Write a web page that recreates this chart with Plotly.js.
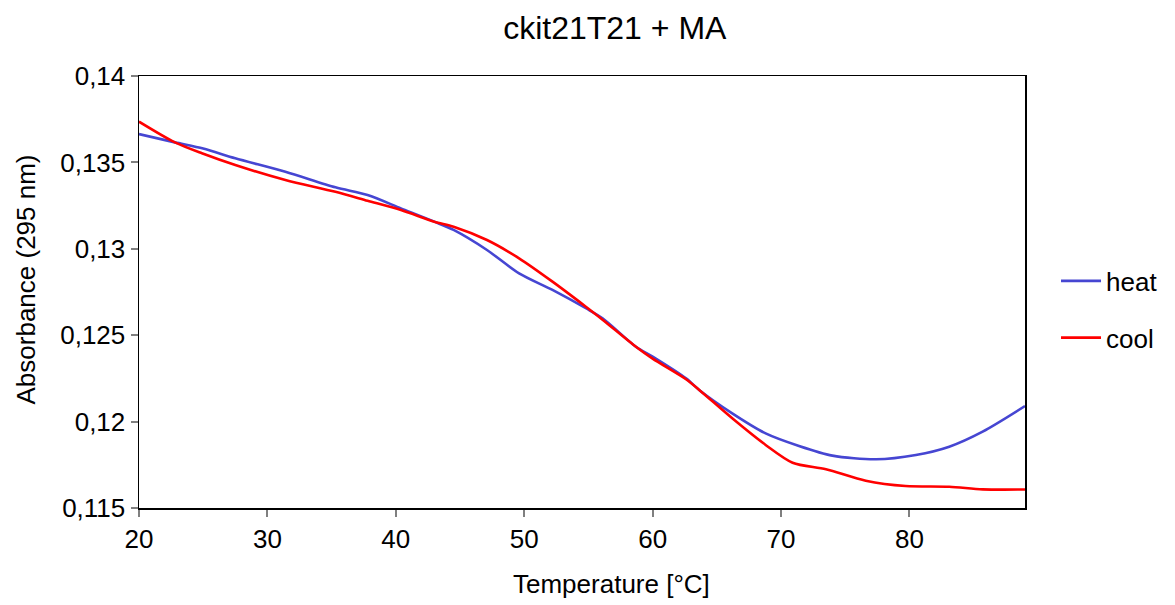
<!DOCTYPE html>
<html>
<head>
<meta charset="utf-8">
<script src="https://cdn.plot.ly/plotly-3.0.1.min.js"></script>
<style>html,body{margin:0;padding:0;background:#fff;}#chart{width:1175px;height:605px;}</style>
</head>
<body>
<div id="chart"></div>
<script>
const heatT = [20, 22.8, 25, 27.5, 31.4, 35.3, 37.8, 40.4, 43.0, 44.5, 47.1, 49.6, 52.2, 54.8, 56.1, 58.7, 60.0, 62.6, 63.7, 66.2, 68.8, 71.4, 74.0, 77.4, 80.5, 83.1, 85.7, 89];
const heatA = [0.13664, 0.13616, 0.1358, 0.13524, 0.13446, 0.13356, 0.13311, 0.13234, 0.13157, 0.13109, 0.12993, 0.12858, 0.12762, 0.12656, 0.12598, 0.12433, 0.12376, 0.1225, 0.12179, 0.12048, 0.11932, 0.11859, 0.11803, 0.11782, 0.11807, 0.11855, 0.11942, 0.1209];
const coolT = [20, 22.8, 24.9, 27.5, 31.4, 35.3, 37.8, 40.4, 43.0, 44.5, 47.1, 49.6, 52.2, 54.8, 56.1, 58.7, 60.0, 62.6, 63.7, 66.2, 68.8, 70.9, 73.5, 76.6, 79.7, 83.1, 85.7, 89];
const coolA = [0.13736, 0.13616, 0.13553, 0.13485, 0.13398, 0.1333, 0.13278, 0.13224, 0.13157, 0.13128, 0.13051, 0.12945, 0.1281, 0.12665, 0.1259, 0.12433, 0.12364, 0.12245, 0.12179, 0.12019, 0.11865, 0.11762, 0.11724, 0.11658, 0.11627, 0.11623, 0.11608, 0.11607];
const yTickVals = [0.115, 0.12, 0.125, 0.13, 0.135, 0.14];
const yTickText = ['0,115', '0,12', '0,125', '0,13', '0,135', '0,14'];
const xTickVals = [20, 30, 40, 50, 60, 70, 80];
const seriesNames = ['heat', 'cool'];
const titleText = 'ckit21T21 + MA';
const xTitle = 'Temperature [°C]';
const yTitle = 'Absorbance (295 nm)';

const font = 'Liberation Sans, Arial, sans-serif';
const traces = [
  {x: heatT, y: heatA, name: seriesNames[0], mode: 'lines', legendgroup: 'a',
   line: {color: '#4646d2', width: 2.6, shape: 'spline', smoothing: 0.8}},
  {x: coolT, y: coolA, name: seriesNames[1], mode: 'lines', legendgroup: 'b',
   line: {color: '#ff0000', width: 2.6, shape: 'spline', smoothing: 0.8}}
];
const layout = {
  width: 1175, height: 605,
  margin: {l: 139, r: 150, t: 76, b: 97, pad: 0, autoexpand: false},
  paper_bgcolor: '#ffffff', plot_bgcolor: '#ffffff',
  font: {family: font, size: 26, color: '#000'},
  title: {text: titleText, font: {family: font, size: 32, color: '#000'},
          xref: 'paper', x: 0.537, xanchor: 'center', yref: 'container', y: 0.954, yanchor: 'middle'},
  xaxis: {range: [20, 89], tickvals: xTickVals, ticks: 'outside', ticklen: 7, tickcolor: '#808080', tickwidth: 2,
          showline: true, linecolor: '#000', linewidth: 1.5, mirror: true, showgrid: false, zeroline: false,
          tickfont: {family: font, size: 26, color: '#000'}},
  yaxis: {range: [0.115, 0.14], tickvals: yTickVals, ticktext: yTickText, ticks: 'outside', ticklen: 7, tickcolor: '#808080', tickwidth: 2,
          showline: true, linecolor: '#000', linewidth: 1.5, mirror: true, showgrid: false, zeroline: false,
          tickfont: {family: font, size: 26, color: '#000'}},
  showlegend: true,
  legend: {x: 1.035, xanchor: 'left', y: 0.58, yanchor: 'top', tracegroupgap: 20,
           font: {family: font, size: 26, color: '#000'}, bgcolor: 'rgba(0,0,0,0)', itemwidth: 40},
  annotations: [
    {text: xTitle, xref: 'paper', yref: 'paper', x: 0.533, y: -0.176, xanchor: 'center', yanchor: 'middle',
     showarrow: false, font: {family: font, size: 26, color: '#000'}},
    {text: yTitle, xref: 'paper', yref: 'paper', x: -0.128, y: 0.528, xanchor: 'center', yanchor: 'middle',
     textangle: -90, showarrow: false, font: {family: font, size: 26, color: '#000'}}
  ]
};
Plotly.newPlot('chart', traces, layout, {displayModeBar: false, staticPlot: true});
</script>
</body>
</html>
